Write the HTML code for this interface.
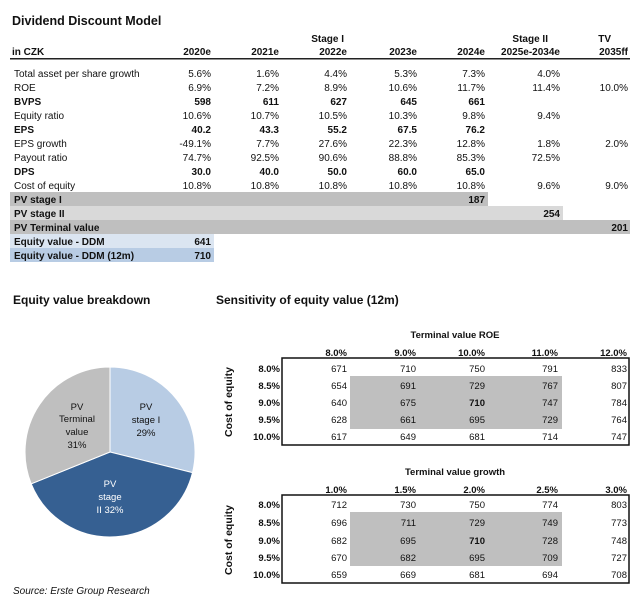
<!DOCTYPE html>
<html><head><meta charset="utf-8"><style>
html,body{margin:0;padding:0;background:#fff;}
svg{display:block;font-family:"Liberation Sans",Arial,sans-serif;}
</style></head><body>
<svg width="640" height="606" viewBox="0 0 640 606" xmlns="http://www.w3.org/2000/svg">
<g font-size="10" fill="#111">
<text x="12" y="25" font-size="12.5" font-weight="bold">Dividend Discount Model</text>
<g font-weight="bold" text-anchor="end">
<text x="344" y="42">Stage I</text>
<text x="548" y="42">Stage II</text>
<text x="611" y="42">TV</text>
<text x="211" y="55">2020e</text><text x="279" y="55">2021e</text><text x="347" y="55">2022e</text><text x="417" y="55">2023e</text><text x="485" y="55">2024e</text><text x="560" y="55">2025e-2034e</text><text x="628" y="55">2035ff</text>
</g>
<text x="12" y="55" font-weight="bold">in CZK</text>
<rect x="10" y="58" width="620" height="1.5" fill="#222"/>
<!-- bars -->
<rect x="10" y="192" width="478" height="14" fill="#bfbfbf"/>
<rect x="10" y="206" width="553" height="14" fill="#d9d9d9"/>
<rect x="10" y="220" width="620" height="14" fill="#bfbfbf"/>
<rect x="10" y="234" width="204" height="14" fill="#dbe5f1"/>
<rect x="10" y="248" width="204" height="14" fill="#b8cce4"/>
<g>
<text x="14" y="77">Total asset per share growth</text>
<text x="14" y="91">ROE</text>
<text x="14" y="105" font-weight="bold">BVPS</text>
<text x="14" y="119">Equity ratio</text>
<text x="14" y="133" font-weight="bold">EPS</text>
<text x="14" y="147">EPS growth</text>
<text x="14" y="161">Payout ratio</text>
<text x="14" y="175" font-weight="bold">DPS</text>
<text x="14" y="189">Cost of equity</text>
<g font-weight="bold"><text x="14" y="203">PV stage I</text><text x="14" y="217">PV stage II</text><text x="14" y="231">PV Terminal value</text><text x="14" y="245">Equity value - DDM</text><text x="14" y="259">Equity value - DDM (12m)</text></g>
</g>
<g text-anchor="end">
<text x="211" y="77">5.6%</text><text x="279" y="77">1.6%</text><text x="347" y="77">4.4%</text><text x="417" y="77">5.3%</text><text x="485" y="77">7.3%</text><text x="560" y="77">4.0%</text>
<text x="211" y="91">6.9%</text><text x="279" y="91">7.2%</text><text x="347" y="91">8.9%</text><text x="417" y="91">10.6%</text><text x="485" y="91">11.7%</text><text x="560" y="91">11.4%</text><text x="628" y="91">10.0%</text>
<g font-weight="bold"><text x="211" y="105">598</text><text x="279" y="105">611</text><text x="347" y="105">627</text><text x="417" y="105">645</text><text x="485" y="105">661</text></g>
<text x="211" y="119">10.6%</text><text x="279" y="119">10.7%</text><text x="347" y="119">10.5%</text><text x="417" y="119">10.3%</text><text x="485" y="119">9.8%</text><text x="560" y="119">9.4%</text>
<g font-weight="bold"><text x="211" y="133">40.2</text><text x="279" y="133">43.3</text><text x="347" y="133">55.2</text><text x="417" y="133">67.5</text><text x="485" y="133">76.2</text></g>
<text x="211" y="147">-49.1%</text><text x="279" y="147">7.7%</text><text x="347" y="147">27.6%</text><text x="417" y="147">22.3%</text><text x="485" y="147">12.8%</text><text x="560" y="147">1.8%</text><text x="628" y="147">2.0%</text>
<text x="211" y="161">74.7%</text><text x="279" y="161">92.5%</text><text x="347" y="161">90.6%</text><text x="417" y="161">88.8%</text><text x="485" y="161">85.3%</text><text x="560" y="161">72.5%</text>
<g font-weight="bold"><text x="211" y="175">30.0</text><text x="279" y="175">40.0</text><text x="347" y="175">50.0</text><text x="417" y="175">60.0</text><text x="485" y="175">65.0</text></g>
<text x="211" y="189">10.8%</text><text x="279" y="189">10.8%</text><text x="347" y="189">10.8%</text><text x="417" y="189">10.8%</text><text x="485" y="189">10.8%</text><text x="560" y="189">9.6%</text><text x="628" y="189">9.0%</text>
<g font-weight="bold"><text x="485" y="203">187</text><text x="560" y="217">254</text><text x="628" y="231">201</text><text x="211" y="245">641</text><text x="211" y="259">710</text></g>
</g>

<!-- pie -->
<text x="13" y="304" font-size="12" font-weight="bold">Equity value breakdown</text>
<path d="M110,452 L110,367 A85,85 0 0 1 192.5,472.6 Z" fill="#b8cce4" stroke="#fff" stroke-width="1"/>
<path d="M110,452 L192.5,472.6 A85,85 0 0 1 31.2,483.8 Z" fill="#366092" stroke="#fff" stroke-width="1"/>
<path d="M110,452 L31.2,483.8 A85,85 0 0 1 110,367 Z" fill="#bfbfbf" stroke="#fff" stroke-width="1"/>
<g text-anchor="middle" font-size="9.5">
<text x="146" y="410">PV</text><text x="146" y="423">stage I</text><text x="146" y="436">29%</text>
<text x="77" y="410">PV</text><text x="77" y="422">Terminal</text><text x="77" y="435">value</text><text x="77" y="448">31%</text>
<g fill="#fff"><text x="110" y="487">PV</text><text x="110" y="500">stage</text><text x="110" y="513">II 32%</text></g>
</g>
<text x="13" y="594" font-size="10" font-style="italic">Source: Erste Group Research</text>

<!-- sensitivity -->
<text x="216" y="304" font-size="12" font-weight="bold">Sensitivity of equity value (12m)</text>
<g font-size="9.5">
<text x="455" y="338" text-anchor="middle" font-weight="bold">Terminal value ROE</text>
<g font-weight="bold" text-anchor="end"><text x="347" y="356">8.0%</text><text x="416" y="356">9.0%</text><text x="485" y="356">10.0%</text><text x="558" y="356">11.0%</text><text x="627" y="356">12.0%</text></g>
<rect x="350" y="376" width="212" height="53" fill="#bfbfbf"/>
<rect x="282" y="358" width="347" height="87" fill="none" stroke="#111" stroke-width="1.5"/>
<g font-weight="bold" text-anchor="end"><text x="280" y="372">8.0%</text><text x="280" y="389">8.5%</text><text x="280" y="406">9.0%</text><text x="280" y="423">9.5%</text><text x="280" y="440">10.0%</text></g>
<text transform="translate(232,402) rotate(-90)" text-anchor="middle" font-weight="bold" font-size="10.5">Cost of equity</text>
<g text-anchor="end">
<text x="347" y="372">671</text><text x="416" y="372">710</text><text x="485" y="372">750</text><text x="558" y="372">791</text><text x="627" y="372">833</text>
<text x="347" y="389">654</text><text x="416" y="389">691</text><text x="485" y="389">729</text><text x="558" y="389">767</text><text x="627" y="389">807</text>
<text x="347" y="406">640</text><text x="416" y="406">675</text><text x="485" y="406" font-weight="bold">710</text><text x="558" y="406">747</text><text x="627" y="406">784</text>
<text x="347" y="423">628</text><text x="416" y="423">661</text><text x="485" y="423">695</text><text x="558" y="423">729</text><text x="627" y="423">764</text>
<text x="347" y="440">617</text><text x="416" y="440">649</text><text x="485" y="440">681</text><text x="558" y="440">714</text><text x="627" y="440">747</text>
</g>

<text x="455" y="475" text-anchor="middle" font-weight="bold">Terminal value growth</text>
<g font-weight="bold" text-anchor="end"><text x="347" y="493">1.0%</text><text x="416" y="493">1.5%</text><text x="485" y="493">2.0%</text><text x="558" y="493">2.5%</text><text x="627" y="493">3.0%</text></g>
<rect x="350" y="512" width="212" height="54" fill="#bfbfbf"/>
<rect x="282" y="495" width="347" height="88" fill="none" stroke="#111" stroke-width="1.5"/>
<g font-weight="bold" text-anchor="end"><text x="280" y="508">8.0%</text><text x="280" y="526">8.5%</text><text x="280" y="544">9.0%</text><text x="280" y="561">9.5%</text><text x="280" y="578">10.0%</text></g>
<text transform="translate(232,540) rotate(-90)" text-anchor="middle" font-weight="bold" font-size="10.5">Cost of equity</text>
<g text-anchor="end">
<text x="347" y="508">712</text><text x="416" y="508">730</text><text x="485" y="508">750</text><text x="558" y="508">774</text><text x="627" y="508">803</text>
<text x="347" y="526">696</text><text x="416" y="526">711</text><text x="485" y="526">729</text><text x="558" y="526">749</text><text x="627" y="526">773</text>
<text x="347" y="544">682</text><text x="416" y="544">695</text><text x="485" y="544" font-weight="bold">710</text><text x="558" y="544">728</text><text x="627" y="544">748</text>
<text x="347" y="561">670</text><text x="416" y="561">682</text><text x="485" y="561">695</text><text x="558" y="561">709</text><text x="627" y="561">727</text>
<text x="347" y="578">659</text><text x="416" y="578">669</text><text x="485" y="578">681</text><text x="558" y="578">694</text><text x="627" y="578">708</text>
</g>
</g>
</g>
</svg>
</body></html>
